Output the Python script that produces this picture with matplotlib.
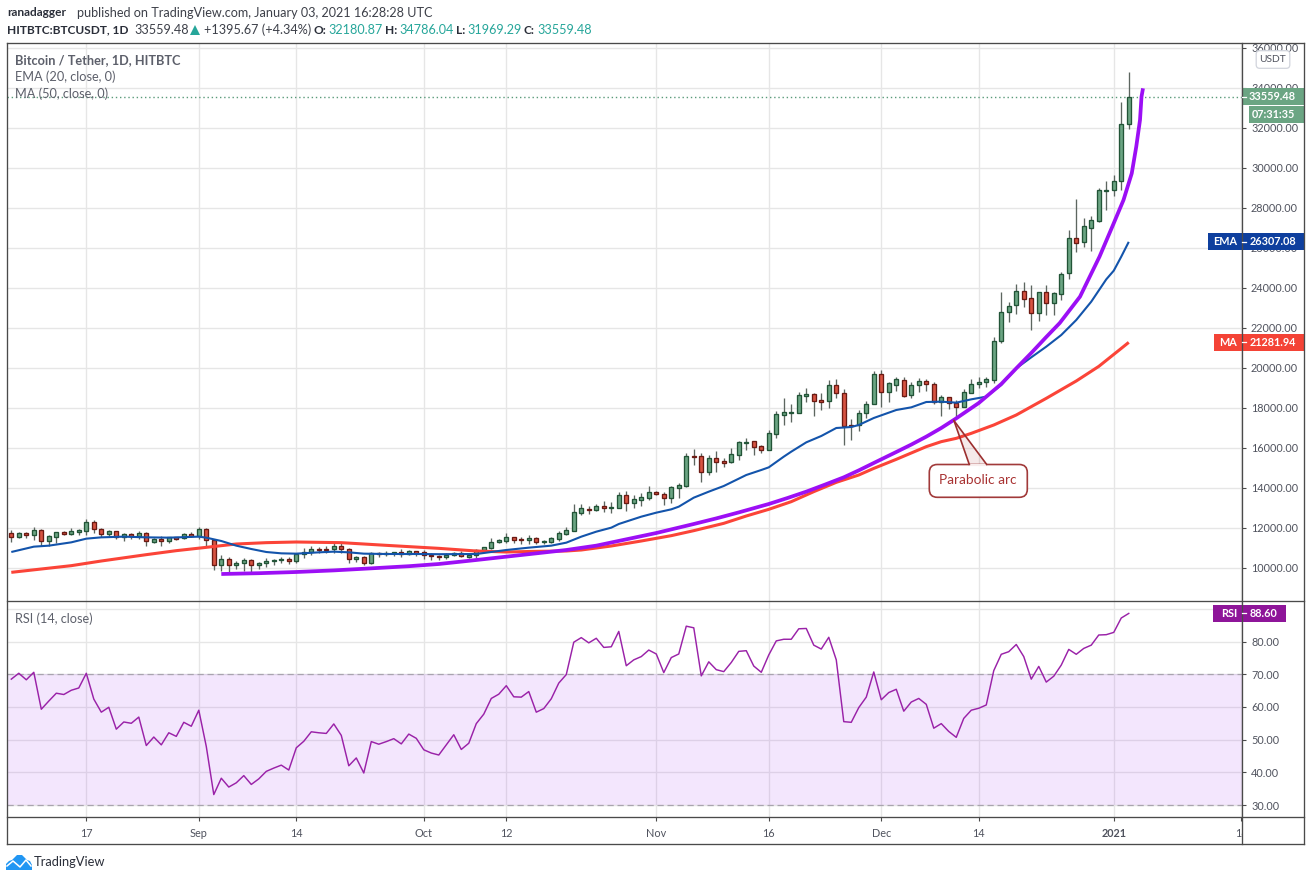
import matplotlib
matplotlib.use("Agg")
import matplotlib.pyplot as plt
from matplotlib.patches import Rectangle, FancyBboxPatch, Polygon
from matplotlib.transforms import Bbox

opens = [11733,11567,11733,11667,11883,11367,11567,11783,11717,11817,11867,12283,11933,11717,11833,11533,11683,11617,11733,11317,
         11433,11333,11533,11483,11683,11617,11933,11383,10133,10433,10133,10233,10383,10133,10233,10333,10383,10433,10333,10683,
         10783,10933,10933,10933,11083,10933,10433,10533,10233,10733,10700,10733,10783,10683,10833,10783,10633,10583,10533,10667,
         10767,10567,10667,10917,11017,11283,11367,11533,11450,11400,11483,11300,11317,11467,11717,11867,12767,12967,12917,13100,
         13017,13017,13633,13267,13417,13517,13783,13717,13517,14017,14117,15600,15583,14817,15483,15333,15283,15667,16267,16333,
         16083,15900,16683,17633,17767,17767,18617,18683,18383,18333,19133,18733,17133,17133,17733,18183,19683,18783,19167,19383,
         18633,19133,19333,19183,18317,18533,18233,18033,18767,19183,19283,19417,21333,22783,23133,23833,23483,22733,23783,23233,
         23717,24733,26483,26283,27017,27367,28867,28917,29333,32180.87]
highs = [11900,11783,11783,12033,11933,11650,11783,11833,11983,11950,12433,12383,11983,11900,11867,11733,11733,11850,11783,11483,
         11583,11567,11567,11733,11783,12033,11983,11433,10650,10533,10367,10483,10433,10317,10483,10433,10533,10533,10733,10983,
         11100,11067,11100,11233,11233,10983,10600,10600,10817,10817,10850,10817,10933,10900,10850,10900,10733,10650,10767,10817,
         10833,10767,10967,11067,11500,11433,11733,11567,11567,11633,11533,11400,11533,11833,12033,13200,13200,13117,13200,13350,
         13317,13800,13850,13650,13733,14100,13867,13783,14083,14233,15733,15950,15733,15650,15850,15483,15983,16333,16483,16350,
         16150,16900,17850,18517,18200,18783,19000,18733,18767,19400,19450,18950,17433,17900,18333,19850,19900,19317,19567,19533,
         19317,19483,19450,19283,18633,18567,18400,18933,19450,19533,19533,21567,23783,23283,24200,24283,24150,23817,24150,23783,
         24783,26900,28450,27483,27600,28983,29350,29650,33283,34786.04]
lows = [11317,11517,11517,11400,11117,11117,11233,11633,11650,11667,11650,11733,11533,11600,11450,11367,11467,11450,11117,11233,
        11117,11250,11400,11433,11567,11433,11117,9900,9850,9800,9950,9850,9800,9967,10067,10150,10267,10200,10267,10483,
        10650,10733,10733,10733,10733,10267,10317,10150,10183,10533,10600,10617,10533,10650,10600,10433,10400,10400,10467,10600,
        10533,10500,10500,10867,10967,11250,11233,11267,11200,11200,11183,11200,11250,11367,11667,11867,12667,12717,12850,12800,
        12767,13017,12850,13017,13100,13417,13650,13167,13250,13517,14067,15150,14317,14650,14817,15067,15267,15417,15900,15650,
        15767,15900,16483,17150,17317,17733,18317,17617,17900,18017,18483,16167,16400,16867,17483,18183,18067,18317,18867,18567,
        18483,18817,18867,18183,17617,17933,17567,18033,18733,19000,19033,19267,21233,22317,22700,23033,21900,22367,22650,22650,
        23400,24467,25817,26067,25867,27317,27900,28617,28900,31969.29]
closes = [11567,11733,11667,11883,11367,11583,11783,11717,11833,11883,12283,11933,11717,11833,11533,11683,11617,11733,11333,11433,
          11333,11533,11467,11683,11617,11933,11383,10133,10433,10133,10233,10383,10133,10233,10333,10383,10433,10333,10683,10783,
          10933,10925,10925,11083,10933,10433,10533,10233,10733,10683,10750,10783,10683,10833,10767,10633,10583,10533,10667,10767,
          10583,10667,10917,11033,11283,11383,11533,11417,11417,11483,11317,11333,11483,11733,11883,12783,12983,12917,13083,13017,
          13050,13633,13267,13433,13533,13783,13700,13517,14033,14133,15583,15567,14817,15483,15317,15267,15683,16283,16317,16067,
          15917,16733,17683,17783,17800,18633,18683,18367,18317,19133,18733,17117,17100,17733,18183,19683,18783,19233,19433,18617,
          19133,19333,19183,18300,18533,18233,18033,18783,19183,19283,19450,21333,22783,23083,23833,23467,22733,23783,23233,23733,
          24683,26483,26267,27083,27383,28883,28917,29333,32183,33559.48]

ema_days = [0,3,5,8,10,12,15,18,21,25,26,28,30,32,34,36,38,41,43,45,47,50,54,57,62,66,69,72,74,76,78,80,81,84,86,88,89,91,93,95,
            98,100,101,103,104,106,108,110,112,113,115,118,120,122,124,126,128,130,132,134,136,138,140,142,144,146,147,148,149]
ema_vals = [10800,11067,11117,11283,11467,11533,11567,11533,11517,11567,11517,11350,11117,10950,10800,10733,10717,10783,10817,
            10783,10717,10700,10700,10690,10700,10900,11017,11117,11267,11567,11817,12017,12200,12567,12767,12933,13067,13517,13817,
            14100,14650,14900,15033,15567,15817,16283,16600,17000,17050,17150,17500,17900,18033,18300,18317,18267,18433,18567,19150,
            19983,20533,21067,21650,22400,23317,24433,24867,25567,26307.08]

ma_days = [0,8,12,18,22,26,30,34,38,44,50,57,62,66,70,74,76,80,84,88,91,95,98,101,104,107,110,113,115,118,122,124,126,128,131,
           134,138,139,142,145,146,147,148,149]
ma_vals = [9783,10117,10350,10667,10867,11033,11200,11267,11300,11267,11133,10983,10850,10800,10833,10850,10900,11100,11350,
           11617,11867,12233,12600,12933,13317,13817,14283,14650,14980,15433,16067,16317,16483,16733,17150,17650,18483,18700,
           19350,20080,20380,20680,20980,21281.94]

arc_days = [28,33,38,43,48,53,57,62,66,70,74,78,82,86,91,94,97,101,103.5,106,108.5,111,113,115,118,120,122,124,126,129,132,134,
            136,138,139.8,142.5,145.1,146.9,148.3,149.4,150,150.5,150.7,150.9]
arc_vals = [9700,9740,9800,9880,9983,10090,10200,10400,10567,10733,10900,11117,11433,11750,12200,12480,12780,13200,13500,13817,
            14170,14533,14880,15250,15800,16170,16567,17000,17483,18250,19200,19983,20750,21550,22250,23567,25567,27150,28400,
            29733,31067,32400,33567,33983]

rsi = [68.5,70.3,68.3,70.6,59.3,61.8,64.2,63.8,65.1,65.8,70.3,62.4,58.4,59.9,53.2,55.4,55.0,56.9,48.2,50.8,
       48.4,52.1,51.0,55.3,54.1,59.0,47.9,33.2,38.2,35.5,36.8,39.0,36.3,38.0,40.3,41.3,42.2,40.7,47.5,49.5,
       52.4,52.1,51.9,54.8,51.3,42.0,44.4,39.8,49.4,48.6,49.4,50.3,48.7,51.7,50.4,46.9,45.9,45.3,48.4,51.5,
       47.0,48.9,54.9,57.8,62.6,63.9,66.5,63.1,63.0,64.7,58.4,59.5,62.5,67.3,69.9,79.8,81.2,79.6,81.0,78.2,
       78.4,83.1,72.6,74.4,75.4,77.4,76.2,70.5,75.1,76.2,84.7,84.2,69.5,73.8,71.4,70.8,73.6,77.0,77.2,72.5,
       70.6,75.9,80.2,80.7,80.7,83.9,84.0,78.9,77.7,81.3,74.4,55.5,55.3,59.8,63.0,70.7,62.2,64.4,65.4,58.7,
       61.5,62.6,60.8,53.5,54.9,52.5,50.7,56.5,59.0,59.6,60.6,71.1,76.1,76.9,79.1,75.4,68.5,72.4,67.6,69.4,
       72.8,77.6,76.1,77.9,78.9,82.0,82.1,82.8,87.2,88.6]

time_ticks = [10,25,38,55,66,86,101,116,129,147,164]
time_labels = ["17","Sep","14","Oct","12","Nov","16","Dec","14","2021","18"]
price_ticks = list(range(10000,36001,2000))
rsi_ticks = [30,40,50,60,70,80,90]
ema_last = 26307.08
ma_last = 21281.94
rsi_last = 88.60
last_price = 33559.48

FONT = "Lato"
plt.rcParams["font.family"] = [FONT, "DejaVu Sans"]
W, H = 1311, 881
GREEN, GREEN_E = "#6ba583", "#225437"
RED, RED_E = "#d75442", "#6b1a13"
GRID = "#e6e6e6"
FRAME = "#4a4a4a"
TXT = "#50535e"
AX_SIZE = 7.8

fig = plt.figure(figsize=(W/100, H/100), dpi=100, facecolor="white")

def axpx(l, t, r, b, **kw):
    return fig.add_axes([l/W, 1-b/H, (r-l)/W, (b-t)/H], **kw)

ax = axpx(7, 43, 1242, 601)
ax2 = axpx(7, 601, 1242, 817)
ov = axpx(0, 0, W, H, zorder=10)
ov.set_xlim(0, W); ov.set_ylim(H, 0); ov.axis("off"); ov.patch.set_alpha(0)

xlim = (-0.573, 164.1)
ax.set_xlim(*xlim); ax.set_ylim(8350, 36250)
ax2.set_xlim(*xlim); ax2.set_ylim(26.34, 92.4)

for a in (ax, ax2):
    for s in a.spines.values():
        s.set_visible(False)
    a.set_axisbelow(True)
    a.yaxis.tick_right()
    a.set_xticks(time_ticks)
    a.grid(True, color=GRID, lw=1.0)

ax.set_yticks(price_ticks, [f"{v:.2f}" for v in price_ticks])
ax.tick_params(axis="y", length=3, color=FRAME, labelsize=AX_SIZE, labelcolor=TXT, pad=3.5)
ax.tick_params(axis="x", length=0, labelbottom=False)
ax2.set_yticks(rsi_ticks, [f"{v:.2f}" for v in rsi_ticks])
ax2.tick_params(axis="y", length=3, color=FRAME, labelsize=AX_SIZE, labelcolor=TXT, pad=3.5)
ax2.set_xticks(time_ticks, time_labels)
ax2.tick_params(axis="x", length=3, color=FRAME, labelsize=AX_SIZE, labelcolor=TXT, pad=5)
for lbl in ax2.get_xticklabels():
    if lbl.get_text() == "2021":
        lbl.set_fontweight("bold")

# clip labels to their own panes
for lbl in ax.get_yticklabels():
    lbl.set_clip_on(True)
    lbl.set_clip_box(Bbox([[1243, H-601], [1304, H-44]]))
for lbl in ax2.get_yticklabels():
    lbl.set_clip_on(True)
    lbl.set_clip_box(Bbox([[1243, H-817], [1304, H-602]]))
for lbl in ax2.get_xticklabels():
    lbl.set_clip_on(True)
    lbl.set_clip_box(Bbox([[7, H-844], [1242, H-818]]))

# candles
days = list(range(len(closes)))
edge = [GREEN_E if c >= o else RED_E for o, c in zip(opens, closes)]
fill = [GREEN if c >= o else RED for o, c in zip(opens, closes)]
ax.vlines(days, lows, highs, colors="#5d6660", lw=0.95, zorder=2)
ax.bar(days, [abs(c-o) for o, c in zip(opens, closes)], bottom=[min(o, c) for o, c in zip(opens, closes)],
       width=0.5, color=fill, edgecolor=edge, linewidth=0.95, zorder=3)

ax.axhline(last_price, color="#5a9a7a", lw=1.0, ls=(0, (1, 2)), zorder=2)
ax.plot(ma_days, ma_vals, color="#fb4438", lw=2.2, zorder=4, solid_capstyle="butt")
ax.plot(ema_days, ema_vals, color="#1354ab", lw=1.5, zorder=5, solid_capstyle="butt")
ax.plot(arc_days, arc_vals, color="#9c0ff5", lw=2.7, zorder=6, solid_capstyle="butt")

# RSI pane
ax2.axhspan(30, 70, color="#8f0ff0", alpha=0.1, lw=0, zorder=1)
for lvl in (30, 70):
    ax2.axhline(lvl, color="#a8a4ae", lw=0.9, ls=(0, (5, 3)), zorder=2)
ax2.plot(days, rsi, color="#9a22a8", lw=1.05, zorder=4)


def T(x, y, s, color=TXT, size=AX_SIZE, weight="normal", ha="left", va="center"):
    return ov.text(x, y, s, color=color, fontsize=size, fontweight=weight, ha=ha, va=va)


# frames
for (x0, y0, x1, y1) in [(6.5, 43, 1304, 43), (6.5, 601, 1304, 601), (6.5, 817, 1304, 817), (6.5, 844, 1304, 844),
                         (6.5, 43, 6.5, 844), (1242, 43, 1242, 844), (1304, 43, 1304, 844)]:
    ov.plot([x0, x1], [y0, y1], color=FRAME, lw=0.95, solid_capstyle="projecting")

# header
HDR, HDB = 9.05, 8.6
T(7, 13, "ranadagger", "#2a2e39", HDB, "bold")
T(77, 13, "published on TradingView.com, January 03, 2021 16:28:28 UTC", "#3d4049", HDR)
T(7, 30, "HITBTC:BTCUSDT, 1D", "#2a2e39", HDB, "bold")
T(134, 30, "33559.48", "#3d4049", HDR)
TEAL = "#26a69a"
ov.add_patch(Polygon([(190, 35), (200, 35), (195, 25)], color=TEAL, lw=0))
T(204, 30, "+1395.67 (+4.34%)", "#3d4049", HDR)
for x, s in [(314, "O:"), (385, "H:"), (456, "L:"), (524, "C:")]:
    T(x, 30, s, "#2a2e39", HDB, "bold")
for x, s in [(328, "32180.87"), (399, "34786.04"), (467, "31969.29"), (537, "33559.48")]:
    T(x, 30, s, TEAL, HDR)

# legends
T(15, 60, "Bitcoin / Tether, 1D, HITBTC", "#5d606b", 9.2, "bold")
T(15, 77, "EMA (20, close, 0)", "#5d606b", 9.2)
T(15, 94, "MA (50, close, 0)", "#5d606b", 9.2)
T(15, 618.5, "RSI (14, close)", "#5d606b", 9.2)


def py(a, v):
    return ov.transData.inverted().transform(a.transData.transform((0, v)))[1]


def tag(a, v, x0, x1, color, text, name=None, text_right=1296):
    y = py(a, v)
    ov.add_patch(Rectangle((x0, y-8.4), x1-x0, 16.8, color=color, lw=0))
    ov.plot([1242, 1246], [y, y], color="white", lw=0.9)
    T(text_right, y, text, "white", AX_SIZE, "bold", ha="right")
    if name:
        T(1237, y, name, "white", AX_SIZE, "bold", ha="right")


tag(ax, last_price, 1242, 1304, GREEN, "33559.48")
ov.add_patch(Rectangle((1249, 106), 55, 16.7, color=GREEN, lw=0))
T(1295, 114.3, "07:31:35", "white", AX_SIZE, "bold", ha="right")
tag(ax, ema_last, 1208, 1304, "#0e3f9e", "26307.08", "EMA")
tag(ax, ma_last, 1214, 1304, "#f44336", "21281.94", "MA")
tag(ax2, rsi_last, 1213, 1286, "#8e1599", "88.60", "RSI", text_right=1277)

ov.add_patch(FancyBboxPatch((1258, 52.5), 30, 14, boxstyle="round,pad=1.8,rounding_size=3.5",
                            fc="white", ec="#d1d4dc", lw=0.9))
T(1273, 59.5, "USDT", TXT, 7.4, ha="center")

# callout
CALL = "#9c2f2f"
tip = (954, 420.7)
ov.add_patch(Polygon([tip, (969.3, 465), (986.7, 465)], closed=True, fc="#a52a2a", alpha=0.1, lw=0))
ov.add_patch(FancyBboxPatch((929.3, 464.5), 98, 32.8, boxstyle="round,pad=0,rounding_size=8",
                            fc="white", ec=CALL, lw=1.2, alpha=0.95))
ov.plot([970.1, 986.0], [464.5, 464.5], color="#f8eded", lw=1.6)
ov.plot([tip[0], 969.3], [tip[1], 464.5], color=CALL, lw=1.2)
ov.plot([tip[0], 986.7], [tip[1], 464.5], color=CALL, lw=1.2)
T(978.3, 480.5, "Parabolic arc", "#a83232", 9.8, ha="center")

# logo
ov.add_patch(Polygon([(6, 870), (6, 864), (9, 861), (12, 860), (17, 855), (22, 855), (27, 860), (30, 861), (32, 865), (32, 870)],
                     closed=True, fc="#2196f3", lw=0))
ov.plot([7, 13, 20, 26, 31], [866, 861, 867, 860, 866], color="white", lw=1.1)
T(34, 862.5, "TradingView", "#2a2e39", 9.3)

fig.savefig("out.png", dpi=100, facecolor="white")
